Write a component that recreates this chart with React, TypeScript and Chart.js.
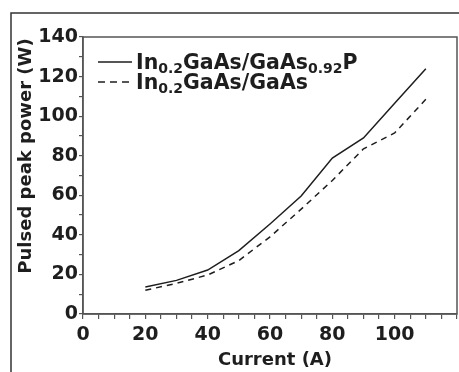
import React, { useEffect, useRef } from "react";
import { Chart, registerables } from "chart.js";

Chart.register(...registerables);

const currents = [20, 30, 40, 50, 60, 70, 80, 90, 100, 110];
const powerGaAsP = [13.6, 17, 22.2, 32, 45.5, 59.6, 78.8, 89, 106.5, 124];
const powerGaAs = [12, 15.5, 19.7, 27, 39, 53, 67.5, 83.5, 91.5, 108.5];
const xLabels = [0, 20, 40, 60, 80, 100];
const yLabels = [0, 20, 40, 60, 80, 100, 120, 140];

const FONT = "'DejaVu Sans', Verdana, sans-serif";
const INK = "#1e1e1e";

const framePlugin = {
  id: "frameAndText",
  beforeDraw(chart: any) {
    const ctx = chart.ctx;
    ctx.save();
    ctx.fillStyle = "#ffffff";
    ctx.fillRect(0, 0, chart.width, chart.height);
    ctx.strokeStyle = "#333";
    ctx.lineWidth = 1.5;
    ctx.beginPath();
    ctx.moveTo(11, chart.height);
    ctx.lineTo(11, 13);
    ctx.lineTo(chart.width, 13);
    ctx.stroke();
    ctx.restore();
  },
  afterDraw(chart: any) {
    const ctx = chart.ctx;
    const a = chart.chartArea;
    ctx.save();
    // plot box
    ctx.strokeStyle = "#555";
    ctx.lineWidth = 1.5;
    ctx.strokeRect(a.left, a.top, a.right - a.left, a.bottom - a.top);

    // axis titles
    ctx.fillStyle = INK;
    ctx.font = `bold 18px ${FONT}`;
    ctx.textAlign = "center";
    ctx.textBaseline = "alphabetic";
    ctx.fillText("Current (A)", 275, 365);
    ctx.save();
    ctx.translate(31, 156);
    ctx.rotate(-Math.PI / 2);
    ctx.fillText("Pulsed peak power (W)", 0, 0);
    ctx.restore();

    // legend
    const drawRich = (parts: [string, boolean][], x: number, y: number) => {
      ctx.textAlign = "left";
      let cx = x;
      for (const [t, sub] of parts) {
        ctx.font = sub ? `bold 14px ${FONT}` : `bold 20.5px ${FONT}`;
        ctx.fillText(t, cx, sub ? y + 4 : y);
        cx += ctx.measureText(t).width;
      }
    };
    ctx.strokeStyle = INK;
    ctx.lineWidth = 1.5;
    ctx.beginPath();
    ctx.moveTo(98, 62);
    ctx.lineTo(132, 62);
    ctx.stroke();
    ctx.setLineDash([7, 5]);
    ctx.beginPath();
    ctx.moveTo(98, 82);
    ctx.lineTo(132, 82);
    ctx.stroke();
    ctx.setLineDash([]);
    drawRich(
      [["In", false], ["0.2", true], ["GaAs/GaAs", false], ["0.92", true], ["P", false]],
      136,
      69
    );
    drawRich([["In", false], ["0.2", true], ["GaAs/GaAs", false]], 136, 89);
    ctx.restore();
  },
};

export default function App() {
  const ref = useRef<HTMLCanvasElement>(null);
  useEffect(() => {
    if (!ref.current) return;
    const chart = new Chart(ref.current, {
      type: "line",
      data: {
        datasets: [
          {
            label: "In0.2GaAs/GaAs0.92P",
            data: currents.map((x, i) => ({ x, y: powerGaAsP[i] })),
            borderColor: INK,
            borderWidth: 1.5,
            pointRadius: 0,
            fill: false,
            tension: 0,
          },
          {
            label: "In0.2GaAs/GaAs",
            data: currents.map((x, i) => ({ x, y: powerGaAs[i] })),
            borderColor: INK,
            borderWidth: 1.5,
            borderDash: [6, 5],
            pointRadius: 0,
            fill: false,
            tension: 0,
          },
        ],
      },
      options: {
        animation: false,
        responsive: true,
        maintainAspectRatio: false,
        layout: { padding: { top: 37, right: 2, left: 0, bottom: 0 } },
        plugins: { legend: { display: false }, tooltip: { enabled: false } },
        scales: {
          x: {
            type: "linear",
            min: 0,
            max: 120,
            border: { color: "#555", width: 1.5 },
            grid: { drawOnChartArea: false, drawTicks: true, tickLength: 5, color: "#555", lineWidth: 1.2 },
            ticks: {
              stepSize: 5,
              autoSkip: false,
              maxRotation: 0,
              padding: 5,
              color: INK,
              font: { family: FONT, size: 19, weight: "bold" },
              callback: (v: any) => (xLabels.includes(Number(v)) ? String(v) : ""),
            },
            afterFit: (s: any) => {
              s.height = 58;
              s.paddingLeft = 0;
              s.paddingRight = 0;
            },
          },
          y: {
            min: 0,
            max: 140,
            border: { color: "#555", width: 1.5 },
            grid: { drawOnChartArea: false, drawTicks: true, tickLength: 4, color: "#555", lineWidth: 1.2 },
            ticks: {
              stepSize: 10,
              autoSkip: false,
              padding: 1,
              color: INK,
              font: { family: FONT, size: 19, weight: "bold" },
              callback: (v: any) => (yLabels.includes(Number(v)) ? String(v) : ""),
            },
            afterFit: (s: any) => {
              s.width = 83;
              s.paddingTop = 0;
              s.paddingBottom = 0;
            },
          },
        },
      },
      plugins: [framePlugin],
    });
    return () => chart.destroy();
  }, []);
  return (
    <div style={{ position: "fixed", left: 0, top: 0, width: 459, height: 372 }}>
      <canvas ref={ref} />
    </div>
  );
}
